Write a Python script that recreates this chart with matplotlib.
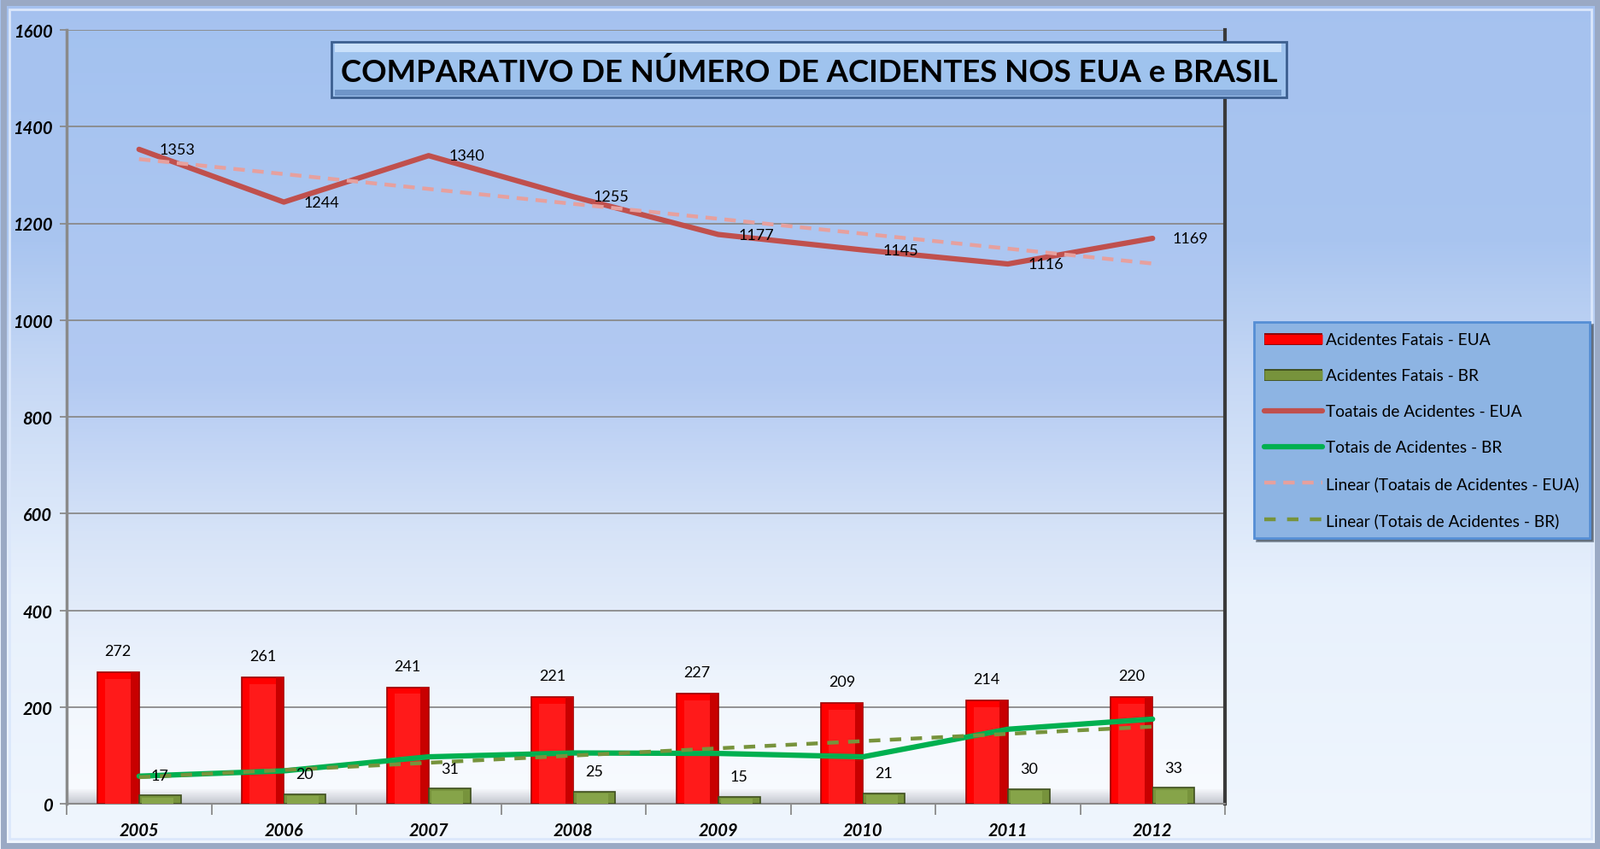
import numpy as np
import matplotlib
matplotlib.use('Agg')
import matplotlib.pyplot as plt
from matplotlib.colors import LinearSegmentedColormap
from matplotlib.patches import FancyBboxPatch, Rectangle
from matplotlib.lines import Line2D
import matplotlib.patheffects as pe

plt.rcParams['font.family'] = ['Lato', 'DejaVu Sans']

anos = ['2005', '2006', '2007', '2008', '2009', '2010', '2011', '2012']
fatais_eua = [272, 261, 241, 221, 227, 209, 214, 220]
fatais_br = [17, 20, 31, 25, 15, 21, 30, 33]
totais_eua = [1353, 1244, 1340, 1255, 1177, 1145, 1116, 1169]
totais_br = [57, 68, 97, 105, 104, 97, 154, 175]
titulo = 'COMPARATIVO DE NÚMERO DE ACIDENTES NOS EUA e BRASIL'

W, H = 1874, 995
fig = plt.figure(figsize=(W / 100, H / 100), dpi=100)

# fundo da figura (gradiente azul -> quase branco)
bg = fig.add_axes([0, 0, 1, 1], zorder=-10)
bg.set_axis_off()
cm_bg = LinearSegmentedColormap.from_list('bg', [
    (0.0, (0.94, 0.965, 0.995)), (0.30, (0.91, 0.945, 0.99)),
    (0.55, (0.78, 0.85, 0.96)), (0.72, (0.66, 0.77, 0.94)), (1.0, (0.65, 0.76, 0.94))])
bg.imshow(np.linspace(0, 1, 256).reshape(-1, 1), aspect='auto', cmap=cm_bg,
          origin='lower', extent=[0, 1, 0, 1])
bg.set_xlim(0, 1)
bg.set_ylim(0, 1)
bg.add_patch(Rectangle((0.002, 0.004), 0.996, 0.992, fill=False,
                       edgecolor='#9aa9c4', lw=5))
bg.add_patch(Rectangle((0.006, 0.012), 0.988, 0.976, fill=False,
                       edgecolor='#dbe7fb', lw=2))

ax = fig.add_axes([78 / W, 53 / H, (1434 - 78) / W, (942 - 36) / H])
x = np.arange(len(anos))
cm_pa = LinearSegmentedColormap.from_list('pa', [
    (0.0, (0.975, 0.985, 1.0)), (0.12, (0.95, 0.97, 0.995)), (0.35, (0.84, 0.89, 0.97)),
    (0.55, (0.70, 0.79, 0.95)), (1.0, (0.64, 0.76, 0.94))])
ax.imshow(np.linspace(0, 1, 256).reshape(-1, 1), aspect='auto', cmap=cm_pa,
          origin='lower', extent=[-0.5, 7.5, 0, 1600], zorder=0)

# piso 3D
cm_floor = LinearSegmentedColormap.from_list('fl', ['#c2c6ce', '#f4f6fa'])
ax.imshow(np.linspace(0, 1, 64).reshape(-1, 1), aspect='auto', cmap=cm_floor,
          origin='lower', extent=[-0.5, 7.5, 0, 30], zorder=0.5)

ax.set_xlim(-0.5, 7.5)
ax.set_ylim(0, 1600)
ax.set_yticks(np.arange(0, 1601, 200))
ax.yaxis.grid(True, color='#8a8a8a', lw=1.3, zorder=1)
ax.set_axisbelow(True)

bw = 0.29
ax.bar(x - bw / 2, fatais_eua, bw, color='#ff0000', edgecolor='#9c0000', lw=1.2, zorder=3)
ax.bar(x + bw / 2, fatais_br, bw, color='#77933c', edgecolor='#3f4f1f', lw=1.2, zorder=3)
# brilho do bisel
ax.bar(x - bw / 2, np.array(fatais_eua) - 14, bw * 0.62, color='#ff1a1a', lw=0, zorder=3.1)
ax.bar(x - bw / 2 + bw * 0.40, np.array(fatais_eua), bw * 0.18, color='#c80000', lw=0, zorder=3.05)
ax.bar(x + bw / 2 - bw * 0.05, np.array(fatais_br) - 4, bw * 0.75, color='#86a449', lw=0, zorder=3.1)

for xi, v in zip(x, fatais_eua):
    ax.annotate(str(v), (xi - bw / 2, v), xytext=(0, 18), textcoords='offset points',
                ha='center', va='center', fontsize=13, zorder=6)
for xi, v in zip(x, fatais_br):
    ax.annotate(str(v), (xi + bw / 2, v), xytext=(0, 17), textcoords='offset points',
                ha='center', va='center', fontsize=13, zorder=6)

ax.plot(x, totais_eua, color='#c0504d', lw=4.5, zorder=4, solid_capstyle='round')
ax.plot(x, totais_br, color='#00b050', lw=4.5, zorder=4, solid_capstyle='round')

c_eua = np.polyfit(x, totais_eua, 1)
c_br = np.polyfit(x, totais_br, 1)
ax.plot(x, np.polyval(c_eua, x), color='#e6a09e', lw=3.2, ls=(0, (3, 2)), zorder=4.5)
ax.plot(x, np.polyval(c_br, x), color='#77933c', lw=3.2, ls=(0, (3, 2.5)), zorder=4.5)

for xi, v in zip(x, totais_eua):
    ax.annotate(str(v), (xi, v), xytext=(17, 0), textcoords='offset points',
                ha='left', va='center', fontsize=13, zorder=6)

# eixos
ax.set_xticks(x)
ax.set_xticklabels(anos)
ax.set_xticks(np.arange(-0.5, 8, 1), minor=True)
ax.tick_params(axis='x', which='major', length=0, pad=15)
ax.tick_params(axis='x', which='minor', length=9, direction='out', color='#8a8a8a', width=1.3)
ax.tick_params(axis='y', length=6, direction='out', color='#8a8a8a', width=1.3, pad=6)
for lab in ax.get_xticklabels() + ax.get_yticklabels():
    lab.set_fontsize(14.5)
    lab.set_fontweight('bold')
    lab.set_fontstyle('italic')
ax.spines['top'].set_visible(False)
ax.spines['left'].set_color('#8a8a8a')
ax.spines['left'].set_linewidth(2.5)
ax.spines['bottom'].set_color('#8a8a8a')
ax.spines['bottom'].set_linewidth(1.5)
ax.spines['right'].set_color('#3a3a3a')
ax.spines['right'].set_linewidth(3)

# título
tb = FancyBboxPatch((388 / W, 1 - 115 / H), (1506 - 388) / W, 65 / H,
                    boxstyle='square,pad=0', transform=fig.transFigure,
                    facecolor='#9fc3ee', edgecolor='#3c5f8f', lw=2, zorder=5)
fig.patches.append(tb)
fig.patches.append(Rectangle((392 / W, 1 - 62 / H), (1500 - 392) / W, 10 / H,
                             transform=fig.transFigure, facecolor='#c9e0fa',
                             edgecolor='none', zorder=5.1))
fig.patches.append(Rectangle((392 / W, 1 - 113 / H), (1500 - 392) / W, 7 / H,
                             transform=fig.transFigure, facecolor='#6f95c8',
                             edgecolor='none', zorder=5.1))
fig.text(947 / W, 1 - 85 / H, titulo, ha='center', va='center', fontsize=26.3,
         fontweight='bold', color='black', zorder=6)

# legenda
handles = [
    Line2D([], [], color='#ff0000', lw=8, solid_capstyle='butt',
           path_effects=[pe.Stroke(linewidth=10, foreground='#8c0000'), pe.Normal()]),
    Line2D([], [], color='#77933c', lw=8, solid_capstyle='butt',
           path_effects=[pe.Stroke(linewidth=10, foreground='#3f4f1f'), pe.Normal()]),
    Line2D([], [], color='#c0504d', lw=4.5, solid_capstyle='round'),
    Line2D([], [], color='#00b050', lw=4.5, solid_capstyle='round'),
    Line2D([], [], color='#e6a09e', lw=3.2, ls=(0, (3, 2))),
    Line2D([], [], color='#77933c', lw=3.2, ls=(0, (3, 3))),
]
labels = ['Acidentes Fatais - EUA', 'Acidentes Fatais - BR', 'Toatais de Acidentes - EUA',
          'Totais de Acidentes - BR', 'Linear (Toatais de Acidentes - EUA)',
          'Linear (Totais de Acidentes - BR)']
leg = fig.legend(handles, labels, loc='upper left', bbox_to_anchor=(1468 / W, 1 - 378 / H),
                 borderaxespad=0, fontsize=13.8, frameon=True, fancybox=False, shadow=True,
                 handlelength=3.5, labelspacing=1.3, borderpad=0.65, handletextpad=0.25)
leg.get_frame().set_facecolor('#8db4e3')
leg.get_frame().set_edgecolor('#558ed5')
leg.get_frame().set_linewidth(2)
leg.get_frame().set_alpha(1)

fig.savefig('out.png', dpi=100)
